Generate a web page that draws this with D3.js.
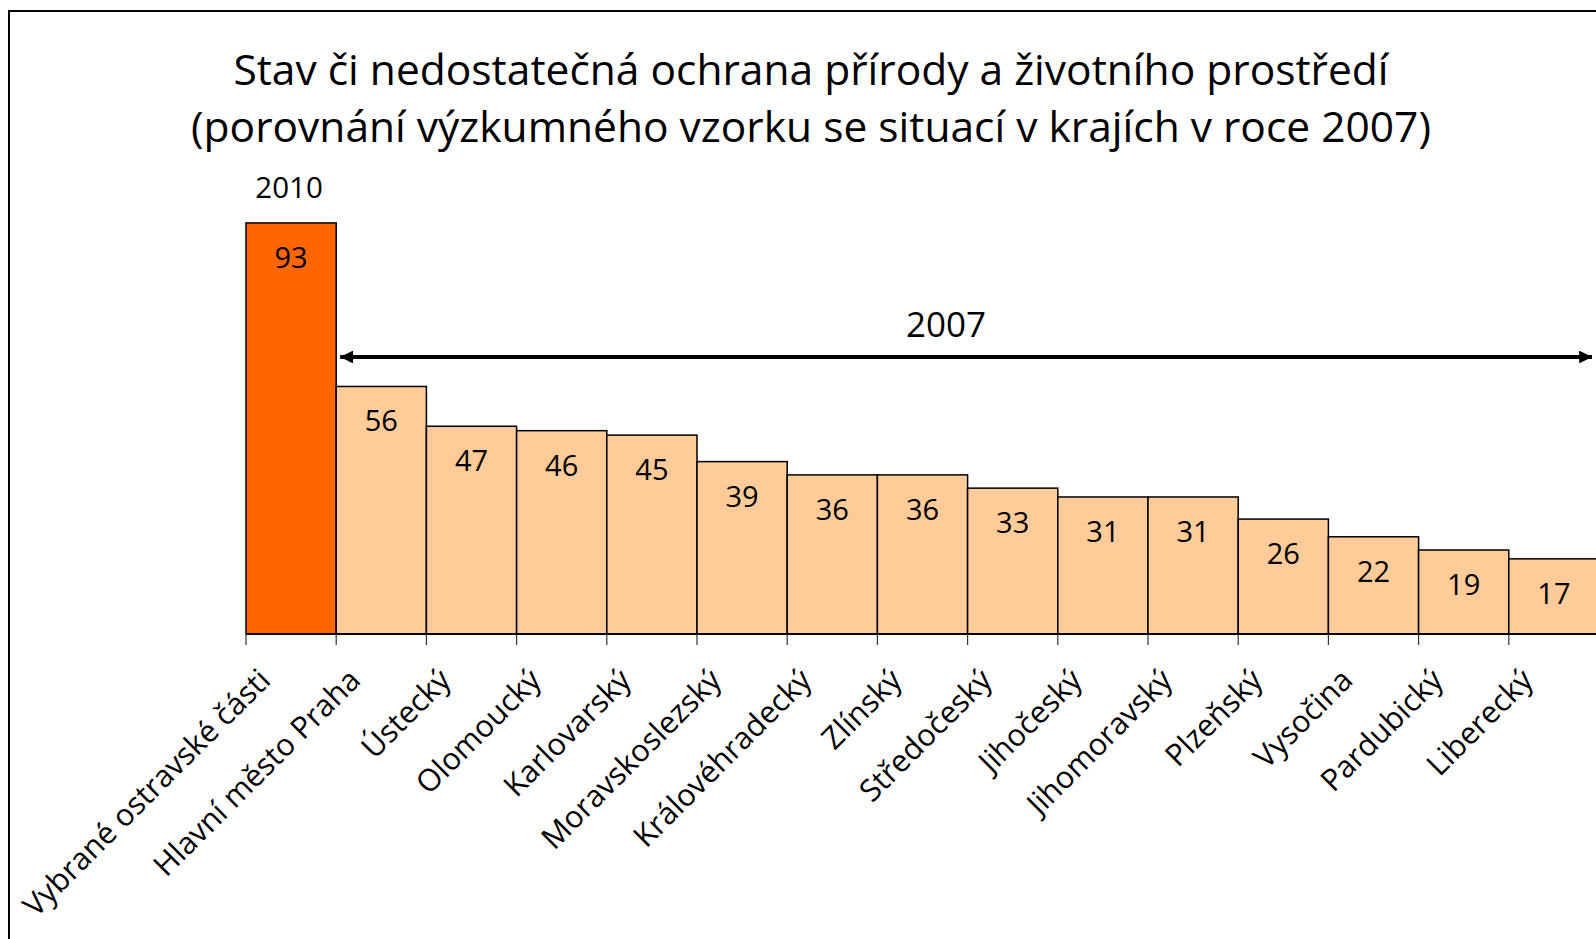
<!DOCTYPE html>
<html>
<head>
<meta charset="utf-8">
<script src="https://cdn.jsdelivr.net/npm/d3@7"></script>
<style>
  body { margin: 0; background: #fff; overflow: hidden; }
  text { font-family: "Open Sans", sans-serif; fill: #000; }
</style>
</head>
<body>
<script>
// regions and their values (first bar = surveyed sample in 2010, the rest = regions in 2007)
const categories = [
  "Vybrané ostravské části", "Hlavní město Praha", "Ústecký", "Olomoucký",
  "Karlovarský", "Moravskoslezský", "Královéhradecký", "Zlínský",
  "Středočeský", "Jihočeský", "Jihomoravský", "Plzeňský", "Vysočina",
  "Pardubický", "Liberecký"
];
const values = [93, 56, 47, 46, 45, 39, 36, 36, 33, 31, 31, 26, 22, 19, 17];
const titleLines = [
  "Stav či nedostatečná ochrana přírody a životního prostředí",
  "(porovnání výzkumného vzorku se situací v krajích v roce 2007)"
];
const sampleYear = "2010";
const regionYear = "2007";

const width = 1596;
const height = 939;

const x = d3.scaleBand()
  .domain(categories)
  .range([246, 1599])
  .padding(0);

const y = d3.scaleLinear()
  .domain([0, 100])
  .range([634, 192]);

const svg = d3.create("svg")
  .attr("width", width)
  .attr("height", height)
  .attr("viewBox", [0, 0, width, height]);

svg.append("defs").append("marker")
  .attr("id", "head")
  .attr("viewBox", "0 0 10 10")
  .attr("refX", 10)
  .attr("refY", 5)
  .attr("markerWidth", 4)
  .attr("markerHeight", 3.2)
  .attr("markerUnits", "strokeWidth")
  .attr("orient", "auto-start-reverse")
  .append("path")
  .attr("d", "M0,0 L10,5 L0,10 Z")
  .attr("fill", "#000");

// outer frame
svg.append("rect")
  .attr("x", 9)
  .attr("y", 11)
  .attr("width", width + 20)
  .attr("height", height + 20)
  .attr("fill", "#fff")
  .attr("stroke", "#000")
  .attr("stroke-width", 2);

// title
svg.append("g")
  .selectAll("text")
  .data(titleLines)
  .join("text")
  .attr("x", 811)
  .attr("y", (d, i) => 85 + i * 57)
  .attr("text-anchor", "middle")
  .attr("font-size", 42.5)
  .text(d => d);

// bars
svg.append("g")
  .selectAll("rect")
  .data(values)
  .join("rect")
  .attr("x", (d, i) => x(categories[i]))
  .attr("y", d => y(d))
  .attr("width", x.bandwidth())
  .attr("height", d => y(0) - y(d))
  .attr("fill", (d, i) => i === 0 ? "#ff6600" : "#ffcc99")
  .attr("stroke", "#000")
  .attr("stroke-width", 1.5);

// value labels
svg.append("g")
  .selectAll("text")
  .data(values)
  .join("text")
  .attr("x", (d, i) => x(categories[i]) + x.bandwidth() / 2)
  .attr("y", d => y(d) + 45)
  .attr("text-anchor", "middle")
  .attr("font-size", 29)
  .text(d => d);

// x axis: baseline + ticks at category boundaries
const axis = svg.append("g");
axis.append("line")
  .attr("x1", x.range()[0])
  .attr("x2", x.range()[1])
  .attr("y1", y(0))
  .attr("y2", y(0))
  .attr("stroke", "#000")
  .attr("stroke-width", 2);

axis.selectAll(".tick")
  .data(categories)
  .join("line")
  .attr("class", "tick")
  .attr("x1", d => x(d))
  .attr("x2", d => x(d))
  .attr("y1", y(0))
  .attr("y2", y(0) + 11)
  .attr("stroke", "#333")
  .attr("stroke-width", 1.2);

axis.selectAll(".cat")
  .data(categories)
  .join("text")
  .attr("class", "cat")
  .attr("text-anchor", "end")
  .attr("font-size", 30.5)
  .attr("transform", d => `translate(${x(d) + x.bandwidth() / 2 - 19},${y(0) + 48}) rotate(-45)`)
  .text(d => d);

// year annotations
svg.append("text")
  .attr("x", x(categories[0]) + x.bandwidth() / 2 - 2)
  .attr("y", 198)
  .attr("text-anchor", "middle")
  .attr("font-size", 29.5)
  .text(sampleYear);

svg.append("text")
  .attr("x", 946)
  .attr("y", 337)
  .attr("text-anchor", "middle")
  .attr("font-size", 35)
  .text(regionYear);

svg.append("line")
  .attr("x1", x(categories[1]) + 4)
  .attr("x2", 1592)
  .attr("y1", 357)
  .attr("y2", 357)
  .attr("stroke", "#000")
  .attr("stroke-width", 4)
  .attr("marker-start", "url(#head)")
  .attr("marker-end", "url(#head)");

document.body.appendChild(svg.node());
</script>
</body>
</html>
